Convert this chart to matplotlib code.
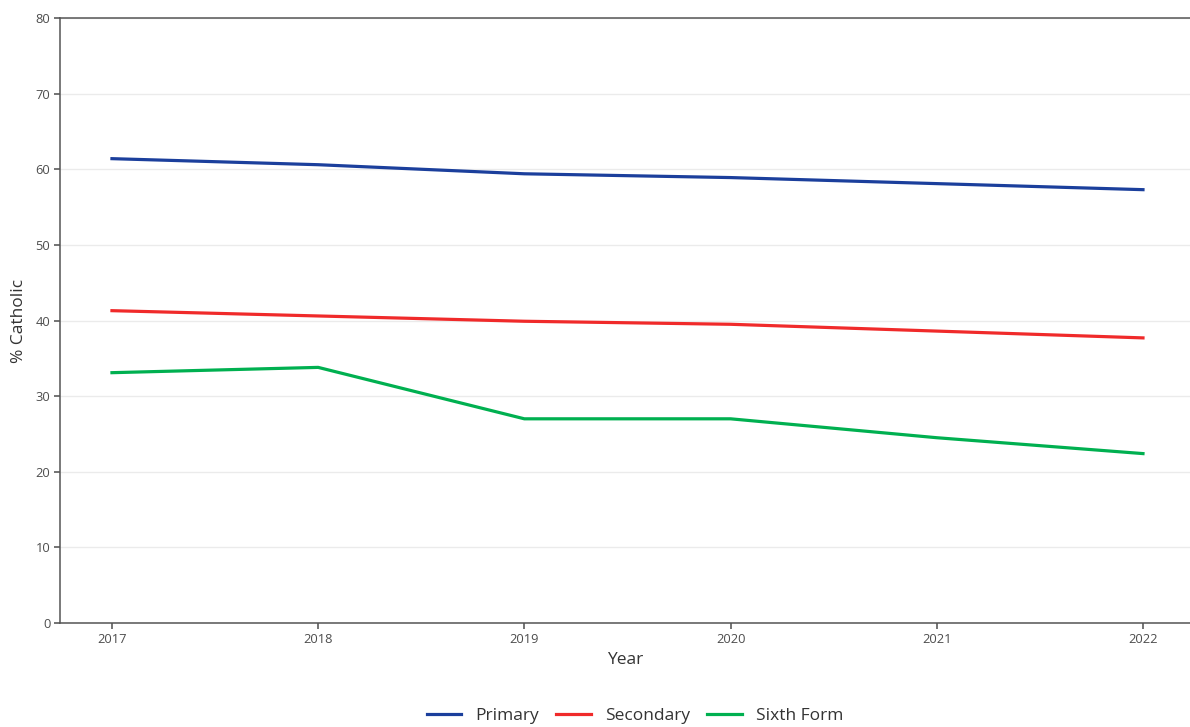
import numpy as np
import matplotlib
matplotlib.use("Agg")
from matplotlib import pyplot as plt

years = [2017, 2018, 2019, 2020, 2021, 2022]
primary = [61.4, 60.6, 59.4, 58.9, 58.1, 57.3]
secondary = [41.3, 40.6, 39.9, 39.5, 38.6, 37.7]
sixth_form = [33.1, 33.8, 27.0, 27.0, 24.5, 22.4]

series_names = ["Primary", "Secondary", "Sixth Form"]
colors = ["#1B3F9C", "#F02A2A", "#00B050"]

plt.rcParams['font.family'] = ['Open Sans', 'DejaVu Sans']

fig = plt.figure(figsize=(11.9, 7.27), dpi=100)
ax = fig.add_axes([60 / 1190, 1 - 623 / 727, 1 - 60 / 1190, (623 - 18) / 727])

for name, vals, c in zip(series_names, [primary, secondary, sixth_form], colors):
    ax.plot(years, vals, color=c, lw=2.3, label=name)

ax.set_xlim(2016.748, 2022.228)
ax.set_ylim(0, 80)
ax.set_yticks(np.arange(0, 81, 10))
ax.set_xticks(years)
ax.grid(axis='y', color='#EBEBEB', lw=1)
ax.set_axisbelow(True)
for s in ['left', 'bottom', 'top']:
    ax.spines[s].set_color('#555555')
    ax.spines[s].set_linewidth(1.1)
ax.spines['right'].set_visible(False)
ax.tick_params(colors='#4D4D4D', labelsize=9.3, length=4, width=1.1)
ax.tick_params(axis='y', pad=3)

ax.set_xlabel("Year", fontsize=12.5, color='#333333', labelpad=4)
ax.set_ylabel("% Catholic", fontsize=12.5, color='#333333', labelpad=6)

fig.legend(loc='center', bbox_to_anchor=(635 / 1190, 1 - 716 / 727), ncol=3,
           frameon=False, fontsize=12.5, handlelength=2.0, columnspacing=1.0,
           handletextpad=0.8, labelcolor='#333333')

fig.savefig("out.png", dpi=100)
